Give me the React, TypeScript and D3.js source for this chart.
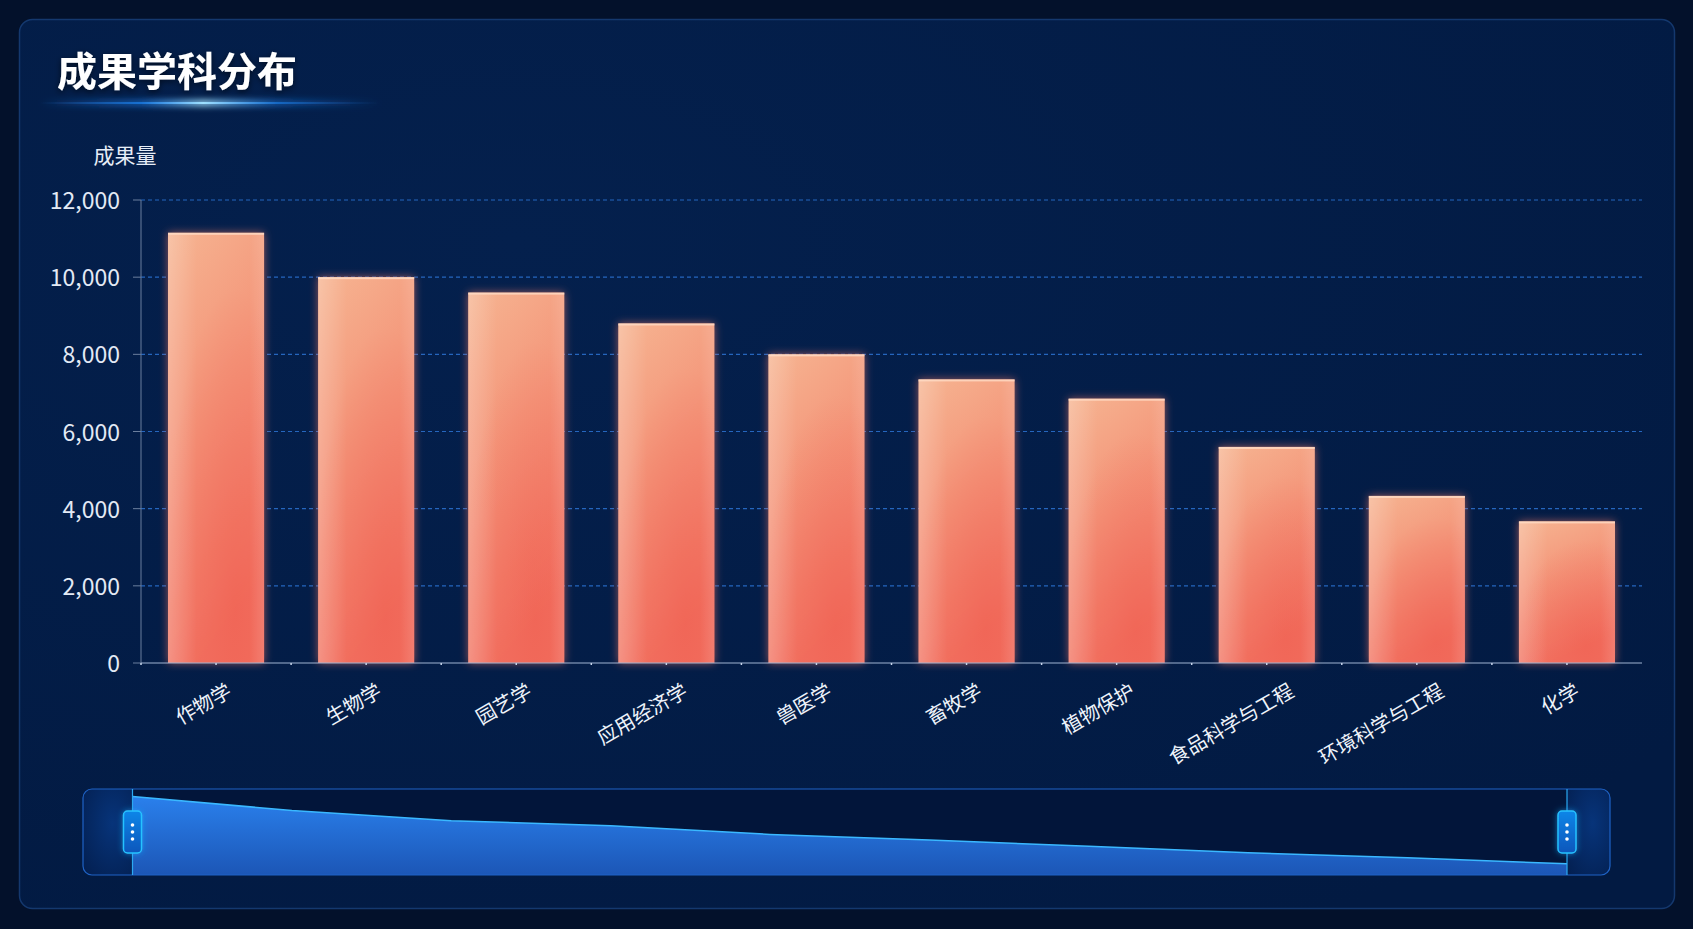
import { useRef, useEffect } from "react";
import * as d3 from "d3";

const CATEGORIES = [
  "作物学",
  "生物学",
  "园艺学",
  "应用经济学",
  "兽医学",
  "畜牧学",
  "植物保护",
  "食品科学与工程",
  "环境科学与工程",
  "化学",
];
const VALUES = [11150, 10000, 9600, 8800, 8000, 7350, 6850, 5600, 4330, 3670];
const Y_TICKS = [0, 2000, 4000, 6000, 8000, 10000, 12000];
// overview strip (data zoom shadow) as it shows in the picture
const SHADOW_VALUES = [11150, 9600, 8450, 7900, 6930, 6320, 5600, 4880, 4320, 3650];

const TITLE = "成果学科分布";
const Y_NAME = "成果量";

const W = 1693;
const H = 929;
const FONT = "'Noto Sans CJK SC', 'Noto Sans', sans-serif";

export default function App() {
  const svgRef = useRef<SVGSVGElement | null>(null);

  useEffect(() => {
    const svg = d3.select(svgRef.current);
    svg.selectAll("*").remove();

    const plot = { left: 141, right: 1642, top: 200, bottom: 663 };
    const zoom = { left: 83, right: 1610, top: 789, bottom: 875, hl: 132.5, hr: 1567 };

    const x = d3
      .scaleBand<string>()
      .domain(CATEGORIES)
      .range([plot.left, plot.right])
      .paddingInner(0.36)
      .paddingOuter(0.18);
    const y = d3.scaleLinear().domain([0, 12000]).range([plot.bottom, plot.top]);

    const defs = svg.append("defs");

    // --- gradients & filters ---
    const cardGrad = defs
      .append("radialGradient")
      .attr("id", "cardGrad")
      .attr("cx", 0.3)
      .attr("cy", 0.25)
      .attr("r", 0.9);
    cardGrad.append("stop").attr("offset", 0).attr("stop-color", "#04204d");
    cardGrad.append("stop").attr("offset", 1).attr("stop-color", "#021a42");

    const lineGlow = defs.append("linearGradient").attr("id", "titleLine");
    [
      [0, "#2a8cff", 0],
      [0.3, "#1f8cff", 0.6],
      [0.48, "#9fe0ff", 1],
      [0.7, "#1f8cff", 0.5],
      [1, "#1f6fd0", 0],
    ].forEach(([o, c, op]) =>
      lineGlow.append("stop").attr("offset", o).attr("stop-color", c).attr("stop-opacity", op)
    );

    const barGrad = defs
      .append("linearGradient")
      .attr("id", "barGrad")
      .attr("x1", 0)
      .attr("y1", 0)
      .attr("x2", 0.3)
      .attr("y2", 1);
    barGrad.append("stop").attr("offset", 0).attr("stop-color", "#f6b592");
    barGrad.append("stop").attr("offset", 0.45).attr("stop-color", "#f4967a");
    barGrad.append("stop").attr("offset", 1).attr("stop-color", "#f27363");

    const barShade = defs
      .append("radialGradient")
      .attr("id", "barShade")
      .attr("cx", 0.7)
      .attr("cy", 0.88)
      .attr("r", 0.75);
    barShade.append("stop").attr("offset", 0).attr("stop-color", "#ef5a4c").attr("stop-opacity", 0.5);
    barShade.append("stop").attr("offset", 1).attr("stop-color", "#ef5a4c").attr("stop-opacity", 0);

    const barEdge = defs.append("linearGradient").attr("id", "barEdge");
    barEdge.append("stop").attr("offset", 0).attr("stop-color", "#fff").attr("stop-opacity", 0.2);
    barEdge.append("stop").attr("offset", 0.3).attr("stop-color", "#fff").attr("stop-opacity", 0);
    barEdge.append("stop").attr("offset", 0.85).attr("stop-color", "#fff").attr("stop-opacity", 0);
    barEdge.append("stop").attr("offset", 1).attr("stop-color", "#fff").attr("stop-opacity", 0.12);

    const barGlow = defs
      .append("filter")
      .attr("id", "barGlow")
      .attr("x", -0.2)
      .attr("y", -0.1)
      .attr("width", 1.4)
      .attr("height", 1.2);
    barGlow
      .append("feDropShadow")
      .attr("dx", 0)
      .attr("dy", 0)
      .attr("stdDeviation", 4)
      .attr("flood-color", "#ff7c66")
      .attr("flood-opacity", 0.6);

    const blur = defs.append("filter").attr("id", "blur").attr("x", -0.2).attr("y", -2).attr("width", 1.4).attr("height", 5);
    blur.append("feGaussianBlur").attr("stdDeviation", 3);

    const titleShadow = defs.append("filter").attr("id", "titleShadow");
    titleShadow
      .append("feDropShadow")
      .attr("dx", 0)
      .attr("dy", 2)
      .attr("stdDeviation", 3)
      .attr("flood-color", "#000")
      .attr("flood-opacity", 0.6);

    const shadowFill = defs
      .append("linearGradient")
      .attr("id", "shadowFill")
      .attr("x1", 0)
      .attr("y1", 0)
      .attr("x2", 0)
      .attr("y2", 1);
    shadowFill.append("stop").attr("offset", 0).attr("stop-color", "#2a80ec");
    shadowFill.append("stop").attr("offset", 1).attr("stop-color", "#1c56b6");

    const sideFill = defs
      .append("radialGradient")
      .attr("id", "sideFill")
      .attr("cx", 0.6)
      .attr("cy", 0.4)
      .attr("r", 0.9);
    sideFill.append("stop").attr("offset", 0).attr("stop-color", "#07347a");
    sideFill.append("stop").attr("offset", 1).attr("stop-color", "#031d4c");

    const handleFill = defs
      .append("linearGradient")
      .attr("id", "handleFill")
      .attr("x1", 0)
      .attr("y1", 0)
      .attr("x2", 0)
      .attr("y2", 1);
    handleFill.append("stop").attr("offset", 0).attr("stop-color", "#0c86e8");
    handleFill.append("stop").attr("offset", 1).attr("stop-color", "#0856bb");

    const handleGlow = defs.append("filter").attr("id", "handleGlow").attr("x", -1).attr("y", -0.5).attr("width", 3).attr("height", 2);
    handleGlow
      .append("feDropShadow")
      .attr("dx", 0)
      .attr("dy", 0)
      .attr("stdDeviation", 3)
      .attr("flood-color", "#1aa8ff")
      .attr("flood-opacity", 0.6);

    defs
      .append("clipPath")
      .attr("id", "zoomClip")
      .append("rect")
      .attr("x", zoom.left)
      .attr("y", zoom.top)
      .attr("width", zoom.right - zoom.left)
      .attr("height", zoom.bottom - zoom.top)
      .attr("rx", 9);

    // --- page & card ---
    svg.append("rect").attr("width", W).attr("height", H).attr("fill", "#03112b");
    svg
      .append("rect")
      .attr("x", 19.5)
      .attr("y", 19.5)
      .attr("width", 1655)
      .attr("height", 889)
      .attr("rx", 13)
      .attr("fill", "url(#cardGrad)")
      .attr("stroke", "#14386e")
      .attr("stroke-width", 1.5);

    // --- title ---
    svg
      .append("text")
      .attr("x", 57)
      .attr("y", 86)
      .text(TITLE)
      .attr("fill", "#ffffff")
      .attr("font-family", FONT)
      .attr("font-size", "40px")
      .attr("font-weight", 700)
      .attr("filter", "url(#titleShadow)");

    svg
      .append("rect")
      .attr("x", 40)
      .attr("y", 100)
      .attr("width", 340)
      .attr("height", 6)
      .attr("fill", "url(#titleLine)")
      .attr("filter", "url(#blur)");
    svg
      .append("rect")
      .attr("x", 40)
      .attr("y", 102)
      .attr("width", 340)
      .attr("height", 2)
      .attr("fill", "url(#titleLine)");

    // --- grid & y axis ---
    const g = svg.append("g");
    Y_TICKS.forEach((t) => {
      if (t > 0) {
        g.append("line")
          .attr("x1", plot.left)
          .attr("x2", plot.right)
          .attr("y1", y(t))
          .attr("y2", y(t))
          .attr("stroke", "#2566be")
          .attr("stroke-width", 1.2)
          .attr("stroke-dasharray", "4 3");
      }
      g.append("line")
        .attr("x1", plot.left - 8)
        .attr("x2", plot.left)
        .attr("y1", y(t))
        .attr("y2", y(t))
        .attr("stroke", "#6b7f9e")
        .attr("stroke-width", 1);
      g.append("text")
        .attr("x", plot.left - 21)
        .attr("y", y(t) - 1)
        .attr("text-anchor", "end")
        .attr("dominant-baseline", "central")
        .text(d3.format(",")(t))
        .attr("fill", "#e3eaf5")
        .attr("font-family", FONT)
        .attr("font-size", "23px");
    });
    g.append("line")
      .attr("x1", plot.left)
      .attr("x2", plot.left)
      .attr("y1", plot.top)
      .attr("y2", plot.bottom)
      .attr("stroke", "#6b7f9e")
      .attr("stroke-width", 1);

    g.append("text")
      .attr("x", 125)
      .attr("y", 154)
      .attr("text-anchor", "middle")
      .attr("dominant-baseline", "central")
      .text(Y_NAME)
      .attr("fill", "#e6edf7")
      .attr("font-family", FONT)
      .attr("font-size", "21px");

    // --- bars ---
    CATEGORIES.forEach((c, i) => {
      const bx = x(c) as number;
      const bw = x.bandwidth();
      const by = y(VALUES[i]);
      const bh = y(0) - by;
      g.append("rect")
        .attr("x", bx)
        .attr("y", by)
        .attr("width", bw)
        .attr("height", bh)
        .attr("fill", "url(#barGrad)")
        .attr("filter", "url(#barGlow)");
      g.append("rect").attr("x", bx).attr("y", by).attr("width", bw).attr("height", bh).attr("fill", "url(#barShade)");
      g.append("rect").attr("x", bx).attr("y", by).attr("width", bw).attr("height", bh).attr("fill", "url(#barEdge)");
      g.append("rect")
        .attr("x", bx)
        .attr("y", by)
        .attr("width", bw)
        .attr("height", 2)
        .attr("fill", "#ffdcc6")
        .attr("opacity", 0.8);
    });

    // --- x axis ---
    g.append("line")
      .attr("x1", plot.left)
      .attr("x2", plot.right)
      .attr("y1", plot.bottom + 1)
      .attr("y2", plot.bottom + 1)
      .attr("stroke", "#1d74e0")
      .attr("stroke-width", 4)
      .attr("opacity", 0.7)
      .attr("filter", "url(#blur)");
    g.append("line")
      .attr("x1", plot.left)
      .attr("x2", plot.right)
      .attr("y1", plot.bottom)
      .attr("y2", plot.bottom)
      .attr("stroke", "#9fb3d2")
      .attr("stroke-width", 1.2);
    CATEGORIES.forEach((c) => {
      const cx = (x(c) as number) + x.bandwidth() / 2;
      [cx, cx - x.step() / 2].forEach((tx) =>
        g.append("line")
          .attr("x1", tx)
          .attr("x2", tx)
          .attr("y1", plot.bottom)
          .attr("y2", plot.bottom + 2)
          .attr("stroke", "#c6d4ea")
          .attr("stroke-width", 1.5)
      );
      g.append("text")
        .attr("transform", `translate(${cx + 4 + 2.9 * c.length},${plot.bottom + 25}) rotate(-30)`)
        .attr("text-anchor", "end")
        .attr("dominant-baseline", "central")
        .text(c)
        .attr("fill", "#eef3fa")
        .attr("font-family", FONT)
        .attr("font-size", "20px");
    });

    // --- data zoom strip ---
    const zg = svg.append("g");
    zg.append("rect")
      .attr("x", zoom.left)
      .attr("y", zoom.top)
      .attr("width", zoom.right - zoom.left)
      .attr("height", zoom.bottom - zoom.top)
      .attr("rx", 9)
      .attr("fill", "#02153a");
    const clipped = zg.append("g").attr("clip-path", "url(#zoomClip)");
    clipped
      .append("rect")
      .attr("x", zoom.left)
      .attr("y", zoom.top)
      .attr("width", zoom.hl - zoom.left)
      .attr("height", zoom.bottom - zoom.top)
      .attr("fill", "url(#sideFill)");
    clipped
      .append("rect")
      .attr("x", zoom.hr)
      .attr("y", zoom.top)
      .attr("width", zoom.right - zoom.hr)
      .attr("height", zoom.bottom - zoom.top)
      .attr("fill", "url(#sideFill)");

    const sx = d3.scalePoint<number>().domain(d3.range(SHADOW_VALUES.length)).range([zoom.hl, zoom.hr]);
    const sy = d3.scaleLinear().domain([2400, 12000]).range([zoom.bottom, zoom.top]);
    const area = d3
      .area<number>()
      .x((_, i) => sx(i) as number)
      .y0(zoom.bottom)
      .y1((d) => sy(d));
    const line = d3
      .line<number>()
      .x((_, i) => sx(i) as number)
      .y((d) => sy(d));
    clipped.append("path").attr("d", area(SHADOW_VALUES)).attr("fill", "url(#shadowFill)");
    clipped
      .append("path")
      .attr("d", line(SHADOW_VALUES))
      .attr("fill", "none")
      .attr("stroke", "#3ab8ff")
      .attr("stroke-width", 1.5);

    zg.append("rect")
      .attr("x", zoom.left)
      .attr("y", zoom.top)
      .attr("width", zoom.right - zoom.left)
      .attr("height", zoom.bottom - zoom.top)
      .attr("rx", 9)
      .attr("fill", "none")
      .attr("stroke", "#1f63c6")
      .attr("stroke-width", 1.2);

    [zoom.hl, zoom.hr].forEach((hx) => {
      zg.append("line")
        .attr("x1", hx)
        .attr("x2", hx)
        .attr("y1", zoom.top)
        .attr("y2", zoom.bottom)
        .attr("stroke", "#2ba9f2")
        .attr("stroke-width", 1.2);
      zg.append("rect")
        .attr("x", hx - 9)
        .attr("y", 811)
        .attr("width", 18)
        .attr("height", 42)
        .attr("rx", 4)
        .attr("fill", "url(#handleFill)")
        .attr("stroke", "#27c2ff")
        .attr("stroke-width", 1.5)
        .attr("filter", "url(#handleGlow)");
      [-7, 0, 7].forEach((dy) =>
        zg.append("circle").attr("cx", hx).attr("cy", 832 + dy).attr("r", 1.8).attr("fill", "#ffffff")
      );
    });
  }, []);

  return (
    <div style={{ position: "fixed", left: 0, top: 0, width: W, height: H }}>
      <svg ref={svgRef} width={W} height={H} style={{ display: "block" }} />
    </div>
  );
}
